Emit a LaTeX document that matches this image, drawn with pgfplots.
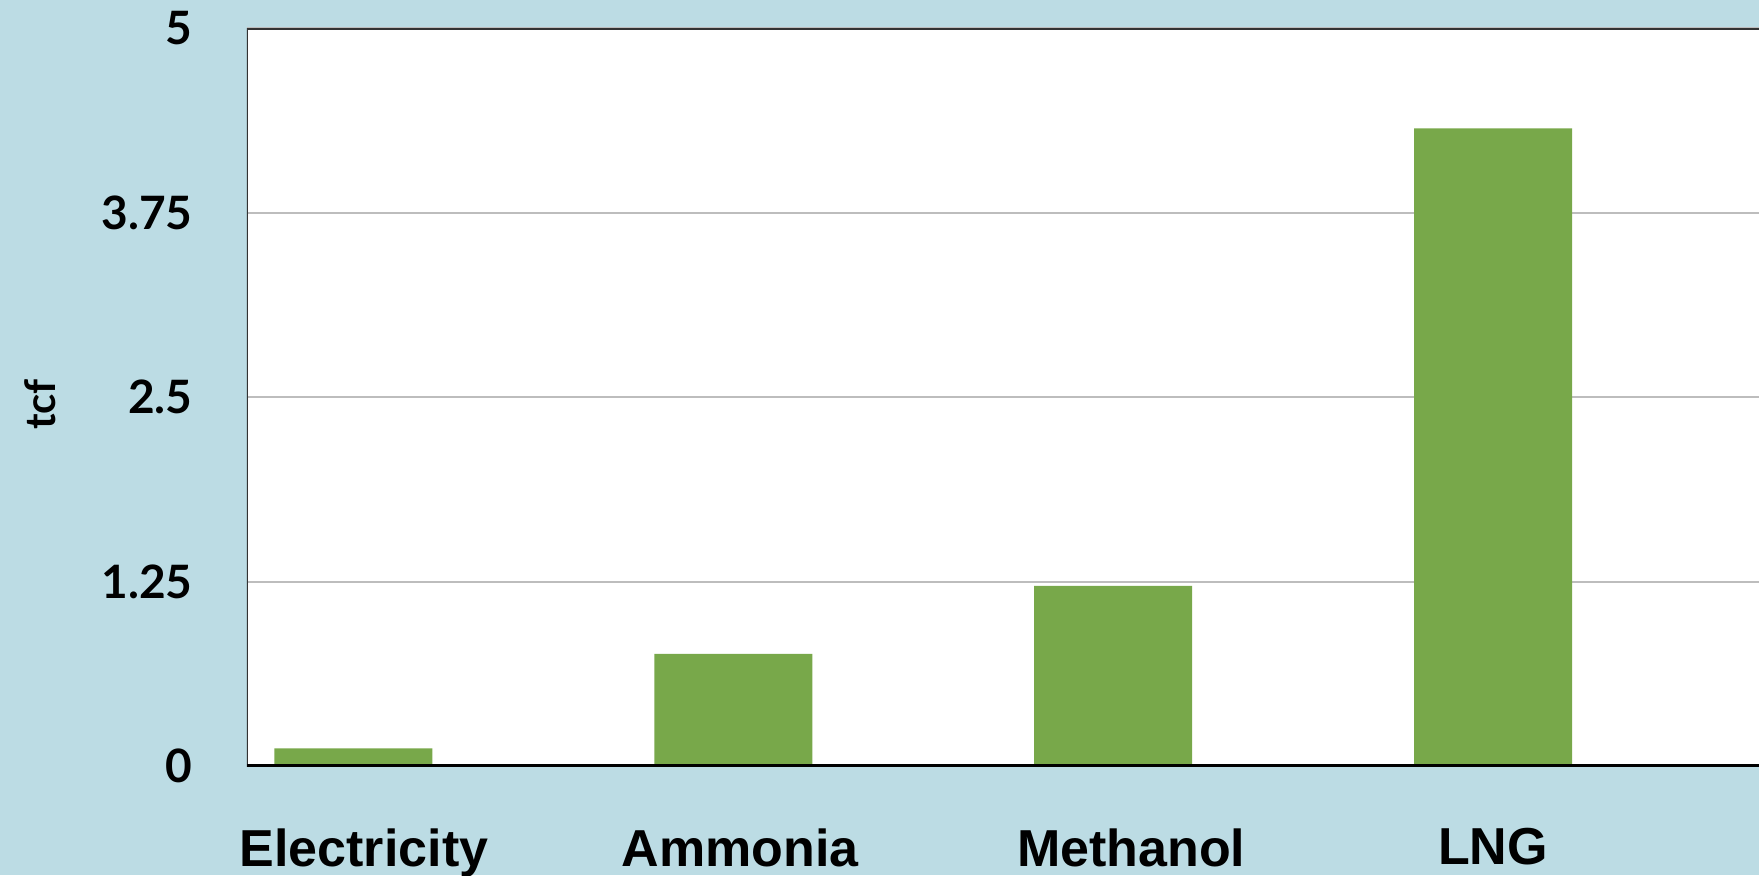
\documentclass[border=0pt]{standalone}
\usepackage{pgfplots}
\pgfplotsset{compat=1.18}
\usepackage{fontspec}
\setmainfont{Liberation Sans}
\newfontfamily\latofont{Lato}
\definecolor{bgblue}{HTML}{BCDCE4}
\definecolor{bargreen}{HTML}{78A84A}
\definecolor{gridgray}{HTML}{BDBDBD}
\begin{document}
\begin{tikzpicture}
\fill[bgblue] (0,0) rectangle (879.5pt,437.5pt);
\begin{axis}[
 at={(123.5pt,54.5pt)}, anchor=south west,
 scale only axis, width=776.5pt, height=369pt,
 xmin=-0.28, xmax=3.808, ymin=0, ymax=5,
 axis background/.style={fill=white},
 ybar, bar width=79pt,
 xtick={0,1,2,3},
 xticklabels={\hspace*{10.6pt}Electricity,\hspace*{7pt}Ammonia,\hspace*{18pt}Methanol,LNG},
 ytick={0,1.25,2.5,3.75,5}, yticklabels={0,1.25,2.5,3.75,5},
 major tick length=0pt,
 ymajorgrids, grid style={gridgray, line width=1pt},
 axis line style={draw=none},
 /pgf/number format/assume math mode=true,
 xticklabel style={font=\fontsize{26}{30}\selectfont\bfseries, inner sep=0pt, anchor=north, yshift=-31pt},
 yticklabel style={font=\latofont\fontsize{23}{26}\selectfont\bfseries, inner sep=0pt, anchor=east, xshift=-27pt},
 ylabel={tcf},
 ylabel style={font=\latofont\fontsize{21}{24}\selectfont\bfseries, at={(axis description cs:-0.1333,0.49)}, anchor=center},
]
\addplot[fill=bargreen, draw=none] coordinates {(0,0.12) (1,0.76) (2,1.22) (3,4.32)};
\draw[color=black!80, line width=1.5pt] (rel axis cs:0,0) rectangle (rel axis cs:1,1);
\draw[black, line width=2pt] (rel axis cs:0,0) -- (rel axis cs:1,0);
\end{axis}
\pgfresetboundingbox
\path (0,0) rectangle (879.5pt,437.5pt);
\end{tikzpicture}
\end{document}
